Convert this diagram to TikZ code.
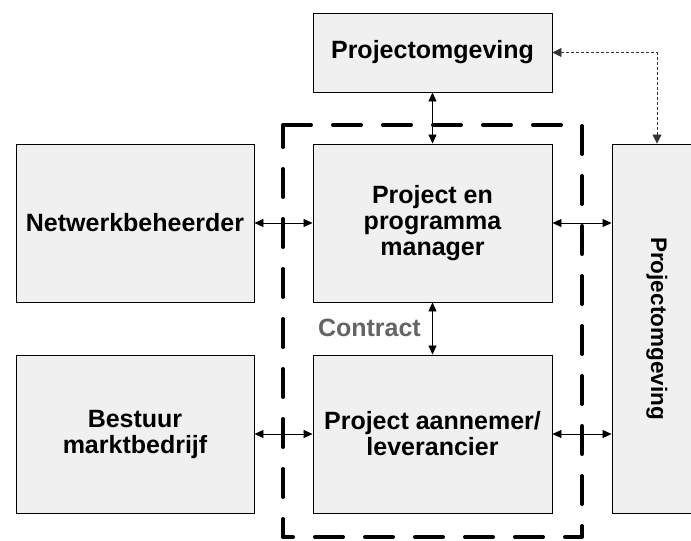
\documentclass[tikz,border=0pt]{standalone}
\usepackage{fontspec}
\setmainfont{Liberation Sans}
\usetikzlibrary{arrows.meta}
\definecolor{boxfill}{RGB}{240,240,240}
\definecolor{labelgray}{RGB}{100,100,100}
\begin{document}
\begin{tikzpicture}[x=1pt,y=-1pt,
  block/.style={draw=black,line width=0.9pt,fill=boxfill,rectangle,inner sep=0pt,
    align=center,font=\fontsize{25}{26}\selectfont\bfseries},
  link/.style={line width=0.8pt,{Triangle[length=9pt,width=8pt]}-{Triangle[length=9pt,width=8pt]}},
  dottedlink/.style={line width=0.8pt,draw=black!80,dash pattern=on 3pt off 2pt,
    {Triangle[length=9pt,width=9pt]}-{Triangle[length=9pt,width=9pt]}},
  frame/.style={line width=4pt,dash pattern=on 28pt off 22pt,line cap=round,line join=round}]
\useasboundingbox (0,0) rectangle (691,541);

% project boundary
\draw[frame] (283,125) -- (582,125) -- (582,537) -- (283,537) -- cycle;

% blocks
\node[block,minimum width=239pt,minimum height=79pt] (topenv) at (432.5,52.5) {Projectomgeving};
\node[block,minimum width=238pt,minimum height=158pt] (netw) at (135,223) {Netwerkbeheerder};
\node[block,minimum width=239pt,minimum height=158pt] (ppm) at (432.5,223) {Project en\\programma\\manager};
\node[block,minimum width=238pt,minimum height=158pt] (bestuur) at (135,434) {Bestuur\\marktbedrijf};
\node[block,minimum width=239pt,minimum height=158pt] (aann) at (432.5,434) {Project aannemer/\\leverancier};
\node[block,minimum width=90pt,minimum height=369pt] (sideenv) at (657,328.5) {};
\node[font=\fontsize{22.5}{24}\selectfont\bfseries,rotate=-90] (sidelabel) at (sideenv.center) {Projectomgeving};

% connectors
\draw[link] (netw.east) -- (ppm.west);
\draw[link] (bestuur.east) -- (aann.west);
\draw[link] (ppm.east) -- (ppm.east -| sideenv.west);
\draw[link] (aann.east) -- (aann.east -| sideenv.west);
\draw[link] (topenv.south) -- (ppm.north);
\draw[link] (ppm.south) -- (aann.north);
\draw[dottedlink] (topenv.east) -| (sideenv.north);

% contract label
\node[anchor=east,inner sep=0pt,text=labelgray,font=\fontsize{25}{26}\selectfont\bfseries] (contract) at (421,328) {Contract};
\end{tikzpicture}
\end{document}
